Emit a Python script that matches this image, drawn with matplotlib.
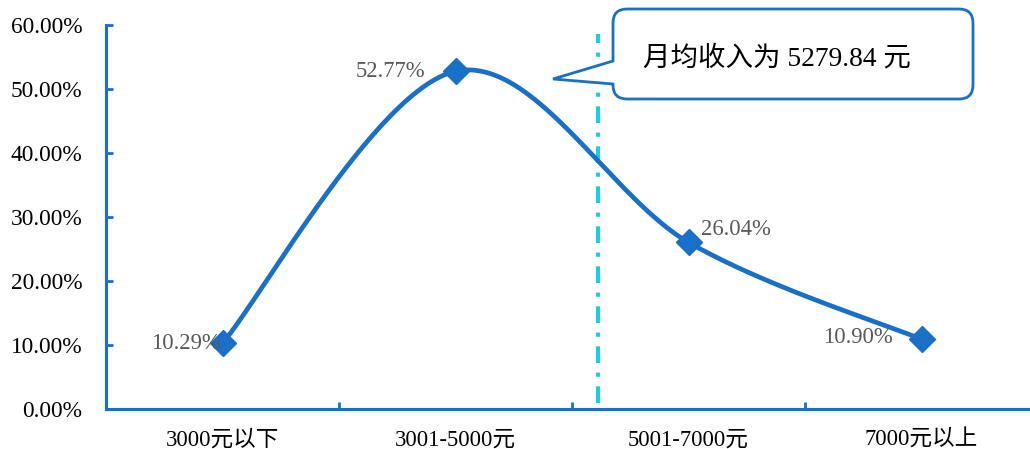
import numpy as np
import matplotlib
matplotlib.use('Agg')
import matplotlib.pyplot as plt
from matplotlib.path import Path
from matplotlib.patches import PathPatch
from matplotlib.transforms import Affine2D
from matplotlib.ticker import FixedLocator, PercentFormatter

plt.rcParams['font.family'] = ['Liberation Serif', 'Noto Sans CJK SC']

categories = ['3000元以下', '3001-5000元', '5001-7000元', '7000元以上']
shares = [10.29, 52.77, 26.04, 10.90]
label_texts = ['10.29%', '52.77%', '26.04%', '10.90%']
mean_income_pos = 1.61
callout_text = '月均收入为 5279.84 元'

blue = '#1a6fc6'
cyan = '#1ccfdc'
W, H = 1030, 449

fig = plt.figure(figsize=(W / 100, H / 100), dpi=100)
ax = fig.add_axes([106 / W, 40 / H, 932 / W, 384 / H])

x = np.arange(len(shares), dtype=float)
y = np.array(shares, dtype=float)


# excel-like smoothed line (catmull-rom as bezier), done in pixel scale
def smooth(xs, ys, sx=233.0, sy=6.4, n=60):
    P = np.column_stack([xs * sx, ys * sy])
    P = np.vstack([P[0], P, P[-1]])
    out = []
    for i in range(1, len(P) - 2):
        p0, p1, p2, p3 = P[i - 1], P[i], P[i + 1], P[i + 2]
        c1 = p1 + (p2 - p0) / 6.0
        c2 = p2 - (p3 - p1) / 6.0
        t = np.linspace(0, 1, n)[:, None]
        seg = ((1 - t) ** 3) * p1 + 3 * ((1 - t) ** 2) * t * c1 + 3 * (1 - t) * t ** 2 * c2 + t ** 3 * p2
        out.append(seg if i == 1 else seg[1:])
    out = np.vstack(out)
    return out[:, 0] / sx, out[:, 1] / sy


xs, ys = smooth(x, y)
ax.plot(xs, ys, color=blue, lw=3.4, solid_capstyle='round', zorder=3)
ax.plot(x, y, linestyle='none', marker='D', ms=13, color=blue, zorder=4)

# data labels
offsets = [(-1, 0, 'right'), (-22, 0, 'right'), (9, 9, 'left'), (-21, 1, 'right')]
for xi, yi, t, (dx, dy, ha) in zip(x, y, label_texts, offsets):
    ax.annotate(t, (xi, yi), xytext=(dx, dy), textcoords='offset points',
                ha=ha, va='center', fontsize=16.3, color='#595959', zorder=5)

# mean income line
ax.plot([mean_income_pos, mean_income_pos], [0.9, 58.6], color=cyan, lw=3,
        dashes=(4, 2.3, 1, 2.3), zorder=2)

ax.set_xlim(-0.5, 3.5)
ax.set_ylim(0, 60)
ax.set_yticks(np.arange(0, 61, 10))
ax.yaxis.set_major_formatter(PercentFormatter(decimals=2))
ax.set_xticks(x)
ax.set_xticklabels(categories)
ax.xaxis.set_minor_locator(FixedLocator([0.5, 1.5, 2.5]))

for s in ['top', 'right']:
    ax.spines[s].set_visible(False)
for s in ['left', 'bottom']:
    ax.spines[s].set_color(blue)
    ax.spines[s].set_linewidth(2.2)

ax.tick_params(axis='y', direction='in', length=5, width=2, color=blue,
               labelsize=16.8, pad=17)
ax.tick_params(axis='x', which='major', length=0, labelsize=16.3, pad=15)
ax.tick_params(axis='x', which='minor', direction='in', length=5, width=2, color=blue)

# callout box drawn in pixel coords (y down)
l, r, t, b, rad = 613, 973, 9, 99, 14
verts = [(l, t + rad), (l, 61), (553, 79), (l, 84), (l, b - rad),
         (l, b), (l + rad, b), (r - rad, b), (r, b), (r, b - rad),
         (r, t + rad), (r, t), (r - rad, t), (l + rad, t), (l, t), (l, t + rad),
         (l, t + rad)]
codes = [Path.MOVETO, Path.LINETO, Path.LINETO, Path.LINETO, Path.LINETO,
         Path.CURVE3, Path.CURVE3, Path.LINETO, Path.CURVE3, Path.CURVE3,
         Path.LINETO, Path.CURVE3, Path.CURVE3, Path.LINETO, Path.CURVE3, Path.CURVE3,
         Path.CLOSEPOLY]
pix = Affine2D().scale(1 / W, -1 / H).translate(0, 1) + fig.transFigure
fig.patches.append(PathPatch(Path(verts, codes), facecolor='white', edgecolor=blue,
                             lw=2.0, transform=pix, zorder=10))
fig.text(777 / W, 1 - 59 / H, callout_text, ha='center', va='center', fontsize=19.8,
         color='black', zorder=11)

fig.savefig('out.png', dpi=100)
